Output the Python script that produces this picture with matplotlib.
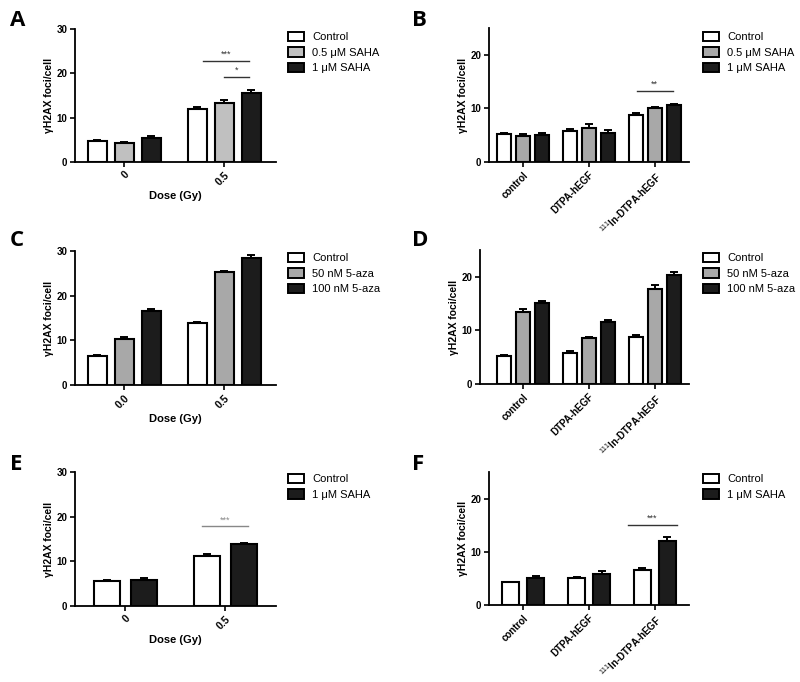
"""
Painéis A-F: focos de gamma-H2AX por célula, barras com erro (só para cima).
"""
import matplotlib
matplotlib.use("Agg")
import matplotlib.pyplot as plt
from matplotlib.patches import Patch
import numpy as np

plt.rcParams["font.family"] = ["Liberation Sans", "DejaVu Sans"]
plt.rcParams["mathtext.fontset"] = "custom"
plt.rcParams["mathtext.rm"] = "Liberation Sans"
plt.rcParams["mathtext.bf"] = "Liberation Sans:bold"

W, H = 800, 682

# ---- dados ----
dose_labels = ["0", "0.5"]
dose_labels_c = ["0.0", "0.5"]
agent_labels = ["control", "DTPA-hEGF", "$^{\\mathrm{111}}$In-DTPA-hEGF"]

saha3 = ["Control", "0.5 \u03bcM SAHA", "1 \u03bcM SAHA"]
aza3 = ["Control", "50 nM 5-aza", "100 nM 5-aza"]
saha2 = ["Control", "1 \u03bcM SAHA"]

# A: dose x SAHA
a_means = [[4.7, 12.0], [4.3, 13.4], [5.4, 15.6]]
a_errs = [[0.3, 0.3], [0.3, 0.6], [0.4, 0.6]]
# B: agente x SAHA
b_means = [[5.3, 5.7, 8.8], [4.9, 6.4, 10.0], [5.0, 5.5, 10.7]]
b_errs = [[0.2, 0.4, 0.4], [0.3, 0.6, 0.3], [0.4, 0.5, 0.2]]
# C: dose x 5-aza
c_means = [[6.5, 13.9], [10.2, 25.2], [16.6, 28.4]]
c_errs = [[0.2, 0.2], [0.5, 0.3], [0.4, 0.6]]
# D: agente x 5-aza
d_means = [[5.2, 5.7, 8.8], [13.5, 8.5, 17.8], [15.1, 11.6, 20.4]]
d_errs = [[0.2, 0.4, 0.4], [0.4, 0.3, 0.6], [0.4, 0.4, 0.5]]
# E: dose x SAHA (2)
e_means = [[5.5, 11.3], [5.9, 13.9]]
e_errs = [[0.3, 0.3], [0.4, 0.2]]
# F: agente x SAHA (2)
f_means = [[4.3, 5.1, 6.5], [5.0, 5.9, 12.0]]
f_errs = [[0.1, 0.2, 0.4], [0.4, 0.5, 0.7]]

WHITE, BLACK = "white", "#1c1c1c"


def eixo(fig, l, r, t, b):
    return fig.add_axes([l / W, 1 - b / H, (r - l) / W, (b - t) / H])


def barras(ax, means, errs, cores, pitch, width):
    n = len(means)
    for i, (m, e, c) in enumerate(zip(means, errs, cores)):
        x = np.arange(len(m)) + (i - (n - 1) / 2) * pitch
        ax.bar(x, m, width, color=c, edgecolor="black", linewidth=1.5, zorder=2)
        ax.errorbar(x, m, yerr=[np.zeros(len(e)), e], fmt="none", ecolor="black",
                    elinewidth=1.4, capsize=3.0, capthick=1.4, zorder=1)


def estilo(ax, xlim, ylim, yticks, xlabels, xlabel=None, xfs=7.5):
    ax.set_xlim(*xlim)
    ax.set_ylim(*ylim)
    ax.set_yticks(yticks)
    for s in ("top", "right"):
        ax.spines[s].set_visible(False)
    for s in ("left", "bottom"):
        ax.spines[s].set_linewidth(1.3)
    ax.tick_params(width=1.2, length=3.5, labelsize=7, pad=2)
    for lab in ax.get_yticklabels():
        lab.set_fontweight("bold")
    ax.set_xticks(np.arange(len(xlabels)))
    ax.set_xticklabels(xlabels, rotation=45, ha="right", rotation_mode="anchor",
                       fontsize=xfs, fontweight="bold")
    ax.set_ylabel("\u03b3H2AX foci/cell", fontsize=7.5, fontweight="bold", labelpad=2)
    if xlabel:
        ax.set_xlabel(xlabel, fontsize=8, fontweight="bold", labelpad=3)


def legenda(ax, rotulos, cores, x, y):
    hs = [Patch(facecolor=c, edgecolor="black", linewidth=1.4) for c in cores]
    ax.legend(hs, rotulos, loc="upper left", bbox_to_anchor=(x / W, 1 - y / H),
              bbox_transform=ax.figure.transFigure, frameon=False, fontsize=8,
              handlelength=1.4, handleheight=0.9, handletextpad=0.8,
              labelspacing=0.45, borderaxespad=0, borderpad=0)


def sig(ax, x0, x1, y, txt, cor, dy):
    ax.plot([x0, x1], [y, y], color=cor, linewidth=1.0, clip_on=False)
    ax.text((x0 + x1) / 2, y + dy, txt, ha="center", va="bottom", fontsize=6.5,
            color=cor)


fig = plt.figure(figsize=(W / 100, H / 100), dpi=100)

# A
ax = eixo(fig, 75, 276, 29, 162)
cores = [WHITE, "#c0c0c0", BLACK]
barras(ax, a_means, a_errs, cores, 0.27, 0.19)
estilo(ax, (-0.49, 1.52), (0, 30), [0, 10, 20, 30], dose_labels, "Dose (Gy)")
legenda(ax, saha3, cores, 288, 32)
sig(ax, 0.79, 1.25, 22.8, "***", "#333333", 0.4)
sig(ax, 1.0, 1.25, 19.2, "*", "#333333", 0.4)

# B
ax = eixo(fig, 489, 689, 28, 162)
cores = [WHITE, "#a8a8a8", BLACK]
barras(ax, b_means, b_errs, cores, 0.29, 0.21)
estilo(ax, (-0.52, 2.52), (0, 25), [0, 10, 20], agent_labels, xfs=7)
legenda(ax, saha3, cores, 703, 32)
sig(ax, 1.73, 2.27, 13.3, "**", "#333333", 0.35)

# C
ax = eixo(fig, 75, 276, 251, 385)
cores = [WHITE, "#a8a8a8", BLACK]
barras(ax, c_means, c_errs, cores, 0.27, 0.19)
estilo(ax, (-0.49, 1.52), (0, 30), [0, 10, 20, 30], dose_labels_c, "Dose (Gy)")
legenda(ax, aza3, cores, 288, 253)

# D
ax = eixo(fig, 480, 689, 250, 384)
barras(ax, d_means, d_errs, cores, 0.29, 0.21)
estilo(ax, (-0.65, 2.52), (0, 25), [0, 10, 20], agent_labels, xfs=7)
legenda(ax, aza3, cores, 703, 253)

# E
ax = eixo(fig, 75, 276, 472, 606)
cores = [WHITE, BLACK]
barras(ax, e_means, e_errs, cores, 0.37, 0.26)
estilo(ax, (-0.5, 1.51), (0, 30), [0, 10, 20, 30], dose_labels, "Dose (Gy)")
legenda(ax, saha2, cores, 288, 474)
sig(ax, 0.77, 1.23, 17.9, "***", "#888888", 0.4)

# F
ax = eixo(fig, 489, 689, 472, 605)
barras(ax, f_means, f_errs, cores, 0.38, 0.26)
estilo(ax, (-0.52, 2.52), (0, 25), [0, 10, 20], agent_labels, xfs=7)
legenda(ax, saha2, cores, 703, 474)
sig(ax, 1.6, 2.33, 15.1, "***", "#333333", 0.35)

# letras dos painéis
for letra, (x, y) in zip("ABCDEF", [(10, 20), (412, 20), (10, 241), (412, 241),
                                    (10, 465), (412, 465)]):
    fig.text(x / W, 1 - y / H, letra, fontsize=16, fontweight="bold",
             family=["Open Sans", "DejaVu Sans"], va="center", ha="left")

fig.savefig("out.png", dpi=100)
